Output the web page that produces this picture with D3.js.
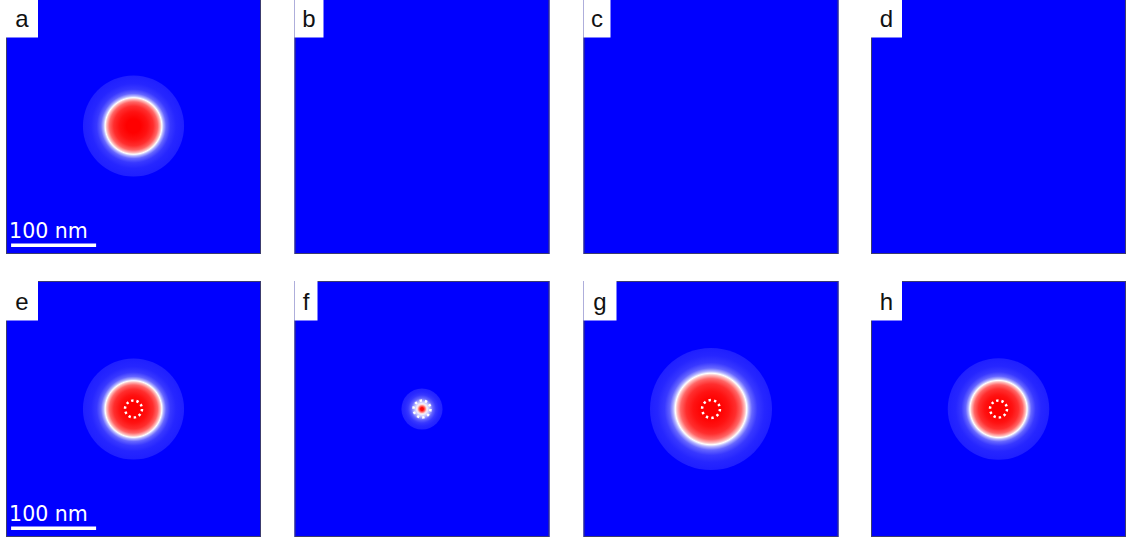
<!DOCTYPE html>
<html>
<head>
<meta charset="utf-8">
<script src="https://cdn.jsdelivr.net/npm/d3@7"></script>
<style>
  html, body { margin: 0; padding: 0; background: #ffffff; }
  svg { display: block; }
</style>
</head>
<body>
<svg id="fig" width="1126" height="540"></svg>
<script>
// Panel labels, row-major
const panelLabels = ["a", "b", "c", "d", "e", "f", "g", "h"];

// Radial field profiles: radius (nm) and normalized field value (-1 .. 1)
const radiiA = [0, 8.3, 16.7, 23.3, 28.3, 31.6, 33.3, 35.3, 38.3, 43.3, 50, 59.5];
const valuesA = [1, 1, 0.93, 0.82, 0.6, 0.25, 0, -0.3, -0.6, -0.78, -0.85, -0.88];
const radiiE = [0, 8.3, 16.7, 23.3, 28.3, 31.6, 33.3, 35.3, 38.3, 43.3, 50, 59.5];
const valuesE = [1, 1, 0.93, 0.82, 0.6, 0.25, 0, -0.3, -0.6, -0.78, -0.85, -0.88];
const radiiF = [0, 1.8, 3.5, 5.3, 6.5, 8.2, 10.6, 12.9, 16.5, 20, 24.2];
const valuesF = [1, 0.95, 0.6, 0.15, -0.08, -0.2, -0.4, -0.62, -0.78, -0.84, -0.87];
const radiiG = [0, 10.5, 21, 29.4, 35.7, 39.9, 42, 44.5, 48.3, 54.6, 63, 71.8];
const valuesG = [1, 1, 0.93, 0.82, 0.6, 0.25, 0, -0.3, -0.6, -0.78, -0.85, -0.88];
const radiiH = [0, 8.4, 16.8, 23.5, 28.6, 31.9, 33.6, 35.6, 38.6, 43.7, 50.4, 59.7];
const valuesH = [1, 1, 0.93, 0.82, 0.6, 0.25, 0, -0.3, -0.6, -0.78, -0.85, -0.88];

// Dotted ring radius (nm) per panel, null where absent
const ringRadii = [null, null, null, null, 10, 10, 10.5, 10];
const ringDots = 10;

// Scale bar
const scaleBarNm = 100;
const scaleBarText = "100 nm";
const scaleBarPanels = ["a", "e"];

// Field of view (nm)
const fieldExtent = [-150, 150];

const profiles = {
  a: { r: radiiA, v: valuesA },
  e: { r: radiiE, v: valuesE },
  f: { r: radiiF, v: valuesF },
  g: { r: radiiG, v: valuesG },
  h: { r: radiiH, v: valuesH }
};

// ---- layout ----
const panelW = 255, panelH = 256;
const colX = [6, 294.5, 583.5, 871];
const rowY = [-2, 281];
const labelBoxW = [32, 29, 27, 31, 32, 23, 33, 31];
const labelBoxH = 39.5;

const color = d3.scaleLinear()
  .domain([-1, 0, 1])
  .range(["#0000ff", "#ffffff", "#ff0000"]);

const x = d3.scaleLinear().domain(fieldExtent).range([0, panelW]);
const y = d3.scaleLinear().domain(fieldExtent).range([panelH, 0]);

const svg = d3.select("#fig");
const defs = svg.append("defs");

panelLabels.forEach((lab, i) => {
  const col = i % 4, row = Math.floor(i / 4);
  const g = svg.append("g")
    .attr("transform", `translate(${colX[col]},${rowY[row]})`);

  // background field
  g.append("rect")
    .attr("width", panelW).attr("height", panelH)
    .attr("fill", color(-1));

  const cx = x(0), cy = y(0);
  const prof = profiles[lab];
  if (prof) {
    const rMax = prof.r[prof.r.length - 1];
    const rPx = x(rMax) - x(0);
    const gid = "field-" + lab;
    const grad = defs.append("radialGradient")
      .attr("id", gid)
      .attr("gradientUnits", "userSpaceOnUse")
      .attr("cx", cx).attr("cy", cy).attr("r", rPx)
      .attr("fx", cx).attr("fy", cy);
    grad.selectAll("stop")
      .data(prof.r.map((r, k) => ({ r, v: prof.v[k] })))
      .join("stop")
      .attr("offset", d => d.r / rMax)
      .attr("stop-color", d => color(d.v));

    g.append("circle")
      .attr("cx", cx).attr("cy", cy).attr("r", rPx)
      .attr("fill", `url(#${gid})`);
  }

  const ring = ringRadii[i];
  if (ring != null) {
    const rr = x(ring) - x(0);
    const circ = 2 * Math.PI * rr;
    const dash = 2.4;
    g.append("circle")
      .attr("cx", cx).attr("cy", cy).attr("r", rr)
      .attr("fill", "none")
      .attr("stroke", "#ffffff")
      .attr("stroke-width", 2.5)
      .attr("stroke-dasharray", `${dash},${circ / ringDots - dash}`);
  }

  if (scaleBarPanels.includes(lab)) {
    const x0 = x(-144), x1 = x(-144 + scaleBarNm);
    g.append("rect")
      .attr("x", x0).attr("y", panelH - 10.5)
      .attr("width", x1 - x0).attr("height", 3.5)
      .attr("fill", "#ffffff");
    g.append("text")
      .attr("x", x0 - 2).attr("y", panelH - 16)
      .attr("fill", "#ffffff")
      .attr("font-family", "'DejaVu Sans', sans-serif")
      .attr("font-size", 20.5)
      .text(scaleBarText);
  }

  // frame
  g.append("rect")
    .attr("x", 0.5).attr("y", 0.5)
    .attr("width", panelW - 1).attr("height", panelH - 1)
    .attr("fill", "none")
    .attr("stroke", "#3c3c6e")
    .attr("stroke-width", 1);

  // label box
  g.append("rect")
    .attr("x", 0).attr("y", 0)
    .attr("width", labelBoxW[i]).attr("height", labelBoxH)
    .attr("fill", "#ffffff");
  g.append("text")
    .attr("x", labelBoxW[i] / 2).attr("y", 29)
    .attr("text-anchor", "middle")
    .attr("fill", "#111111")
    .attr("font-family", "'Liberation Sans', Arial, sans-serif")
    .attr("font-size", 24)
    .text(lab);
});
</script>
</body>
</html>
